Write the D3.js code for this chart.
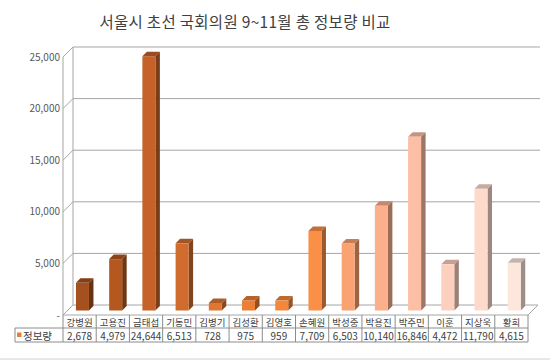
<!DOCTYPE html>
<html><head><meta charset="utf-8">
<script src="https://cdn.jsdelivr.net/npm/d3@7"></script>
<style>body{margin:0;background:#fff}svg{display:block}text{font-family:"Noto Sans CJK KR","Noto Sans",sans-serif}</style>
</head><body><div id="c"></div>
<script>
const categories = ["강병원","고용진","금태섭","기동민","김병기","김성환","김영호","손혜원","박성중","박용진","박주민","이훈","지상욱","황희"];
const values = [2678,4979,24644,6513,728,975,959,7709,6503,10140,16846,4472,11790,4615];
const barColors = ["#A5511F","#B4581F","#C4622A","#D06D2E","#DE7731","#EB7F35","#F5873B","#FA8F48","#FBA272","#FBAF8A","#FCBEA4","#FDCFBD","#FDDACB","#FDE6DC"];
const yTicks = [0,5000,10000,15000,20000,25000];
const seriesName = "정보량";
const title = "서울시 초선 국회의원 9~11월 총 정보량 비교";

const W=550,H=360;
const svg=d3.select("#c").append("svg").attr("width",W).attr("height",H);
const x=d3.scaleBand().domain(categories).range([63,528]);
const y=d3.scaleLinear().domain([0,25000]).range([315,57]);
const D=10; // depth offset
const fmt=d3.format(",");

svg.append("text").attr("x",245).attr("y",28).attr("text-anchor","middle")
  .attr("font-size",15.5).attr("fill","#404040").attr("letter-spacing",0.3).text(title);

const g=svg.append("g");
const grid="#a6a6a6";
yTicks.forEach(t=>{
  const yy=y(t);
  if(t>0) g.append("line").attr("x1",63+D).attr("x2",528+D+2).attr("y1",yy-D).attr("y2",yy-D).attr("stroke",grid);
  g.append("line").attr("x1",63).attr("x2",63+D).attr("y1",yy).attr("y2",yy-D).attr("stroke",grid);
});
g.append("line").attr("x1",63).attr("x2",63).attr("y1",y(25000)).attr("y2",y(0)).attr("stroke",grid);
g.append("line").attr("x1",63+D).attr("x2",63+D).attr("y1",y(25000)-D).attr("y2",y(0)-D).attr("stroke",grid);
g.append("path").attr("d",`M63,${y(0)}L528,${y(0)}L${528+D},${y(0)-D}L${63+D},${y(0)-D}Z`).attr("fill","none").attr("stroke",grid);

g.selectAll(".yt").data(yTicks).enter().append("text")
  .attr("x",60).attr("y",d=>y(d)+3.5).attr("text-anchor","end")
  .attr("font-size",10).attr("fill","#595959").text(d=>d===0?"-":fmt(d));

const bw=13, off=4.5, dep=4.5;
function shade(c,k){const r=d3.rgb(c);return d3.rgb(r.r*k,r.g*k,r.b*k).toString();}
const bars=g.selectAll(".bar").data(values).enter().append("g");
bars.each(function(v,i){
  const sel=d3.select(this);
  const x0=x(categories[i])+x.bandwidth()/2-bw/2+1.5+off*0.3;
  const yb=y(0)-off, yt=y(v)-off;
  const c=barColors[i];
  sel.append("path").attr("d",`M${x0+bw},${yt}L${x0+bw+dep},${yt-dep}L${x0+bw+dep},${yb-dep}L${x0+bw},${yb}Z`).attr("fill",shade(c,0.62));
  sel.append("path").attr("d",`M${x0},${yt}L${x0+dep},${yt-dep}L${x0+bw+dep},${yt-dep}L${x0+bw},${yt}Z`).attr("fill",shade(c,0.78));
  sel.append("rect").attr("x",x0).attr("y",yt).attr("width",bw).attr("height",yb-yt).attr("fill",c);
});

const tb=svg.append("g");
const tc="#8c8c8c";
const r0=315,r1=328,r2=342;
tb.append("line").attr("x1",15).attr("x2",528).attr("y1",r1).attr("y2",r1).attr("stroke",tc);
tb.append("line").attr("x1",15).attr("x2",528).attr("y1",r2).attr("y2",r2).attr("stroke",tc);
tb.append("line").attr("x1",15).attr("x2",15).attr("y1",r1).attr("y2",r2).attr("stroke",tc);
const edges=categories.map(c=>x(c)).concat([528]);
edges.forEach(e=>tb.append("line").attr("x1",e).attr("x2",e).attr("y1",r0).attr("y2",r2).attr("stroke",tc));
tb.selectAll(".cat").data(categories).enter().append("text")
  .attr("x",d=>x(d)+x.bandwidth()/2).attr("y",r1-2.5).attr("text-anchor","middle")
  .attr("font-size",9.5).attr("fill","#404040").text(d=>d);
tb.selectAll(".val").data(values).enter().append("text")
  .attr("x",(d,i)=>x(categories[i])+x.bandwidth()/2).attr("y",r2-2.5).attr("text-anchor","middle")
  .attr("font-size",10).attr("fill","#404040").text(d=>fmt(d));
tb.append("rect").attr("x",17).attr("y",r1+4.5).attr("width",4.5).attr("height",4.5).attr("fill","#ED7D31");
tb.append("text").attr("x",23).attr("y",r2-2.5).attr("font-size",10.5).attr("fill","#404040").text(seriesName);

svg.append("line").attr("x1",0).attr("x2",550).attr("y1",359).attr("y2",359).attr("stroke","#d0d0d0");
</script></body></html>
